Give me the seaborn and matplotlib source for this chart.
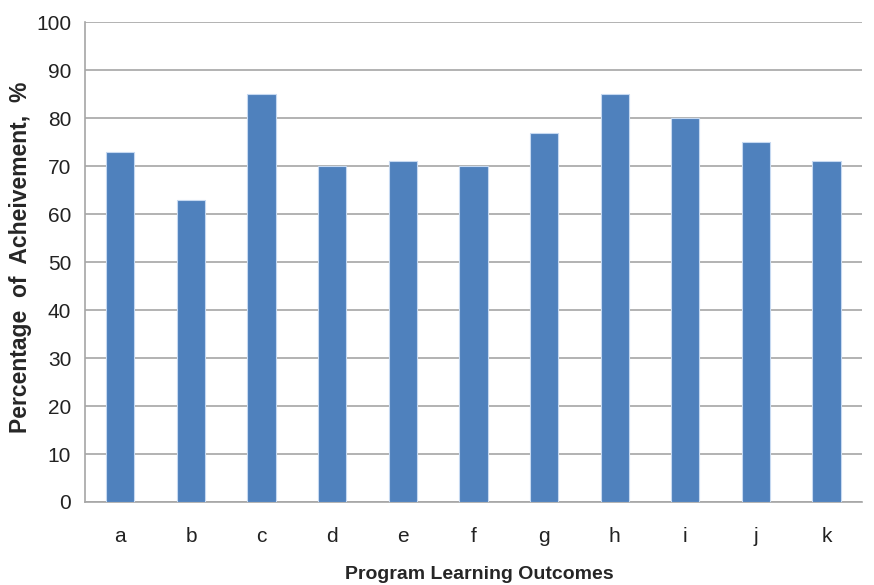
import matplotlib
matplotlib.use("Agg")
import matplotlib.pyplot as plt
import seaborn as sns
import pandas as pd

outcomes = ["a", "b", "c", "d", "e", "f", "g", "h", "i", "j", "k"]
achievement = [73, 63, 85, 70, 71, 70, 77, 85, 80, 75, 71]
y_ticks = [0, 10, 20, 30, 40, 50, 60, 70, 80, 90, 100]

sns.set_theme(style="white")
plt.rcParams["font.family"] = ["Liberation Sans Narrow", "Liberation Sans", "DejaVu Sans"]

df = pd.DataFrame({"outcome": outcomes, "value": achievement})

fig = plt.figure(figsize=(8.74, 5.85), dpi=100)
ax = fig.add_axes([0.0973, 0.1419, 0.8887, 0.8201])

grid_c = "#A6A6A6"
sns.barplot(data=df, x="outcome", y="value", color="#4F81BD", saturation=1,
            width=0.4, edgecolor="#C6D9F1", linewidth=0.8, ax=ax, zorder=3)

ax.set_ylim(0, 100)
ax.set_xlim(-0.5, len(outcomes) - 0.5)
ax.set_yticks(y_ticks)
ax.set_yticklabels([str(v) for v in y_ticks], fontsize=15, color="#222222")
ax.yaxis.grid(True, color=grid_c, linewidth=1.2, zorder=0)
ax.set_axisbelow(True)

# category boundary ticks below the axis
ax.set_xticks([i - 0.5 for i in range(len(outcomes) + 1)], minor=False)
ax.set_xticklabels([""] * (len(outcomes) + 1))
ax.set_xticks(range(len(outcomes)), minor=True)
ax.set_xticklabels(outcomes, minor=True, fontsize=15, color="#222222")
ax.tick_params(axis="x", which="major", length=7, width=1.2, color=grid_c, direction="out")
ax.tick_params(axis="x", which="minor", length=0, pad=18)
ax.tick_params(axis="y", which="major", length=6, width=1.2, color=grid_c, direction="out", pad=4)

for side in ["top", "right"]:
    ax.spines[side].set_visible(False)
for side in ["left", "bottom"]:
    ax.spines[side].set_color(grid_c)
    ax.spines[side].set_linewidth(1.2)

ax.set_xlabel("Program Learning Outcomes", fontsize=14, fontweight="bold")
ax.xaxis.set_label_coords(0.508, -0.134)
ax.set_ylabel("Percentage  of  Acheivement,  %", fontsize=16.5, fontweight="bold",
              family=["Liberation Sans", "DejaVu Sans"])
ax.yaxis.set_label_coords(-0.068, 0.51)

fig.savefig("out.png", dpi=100)
